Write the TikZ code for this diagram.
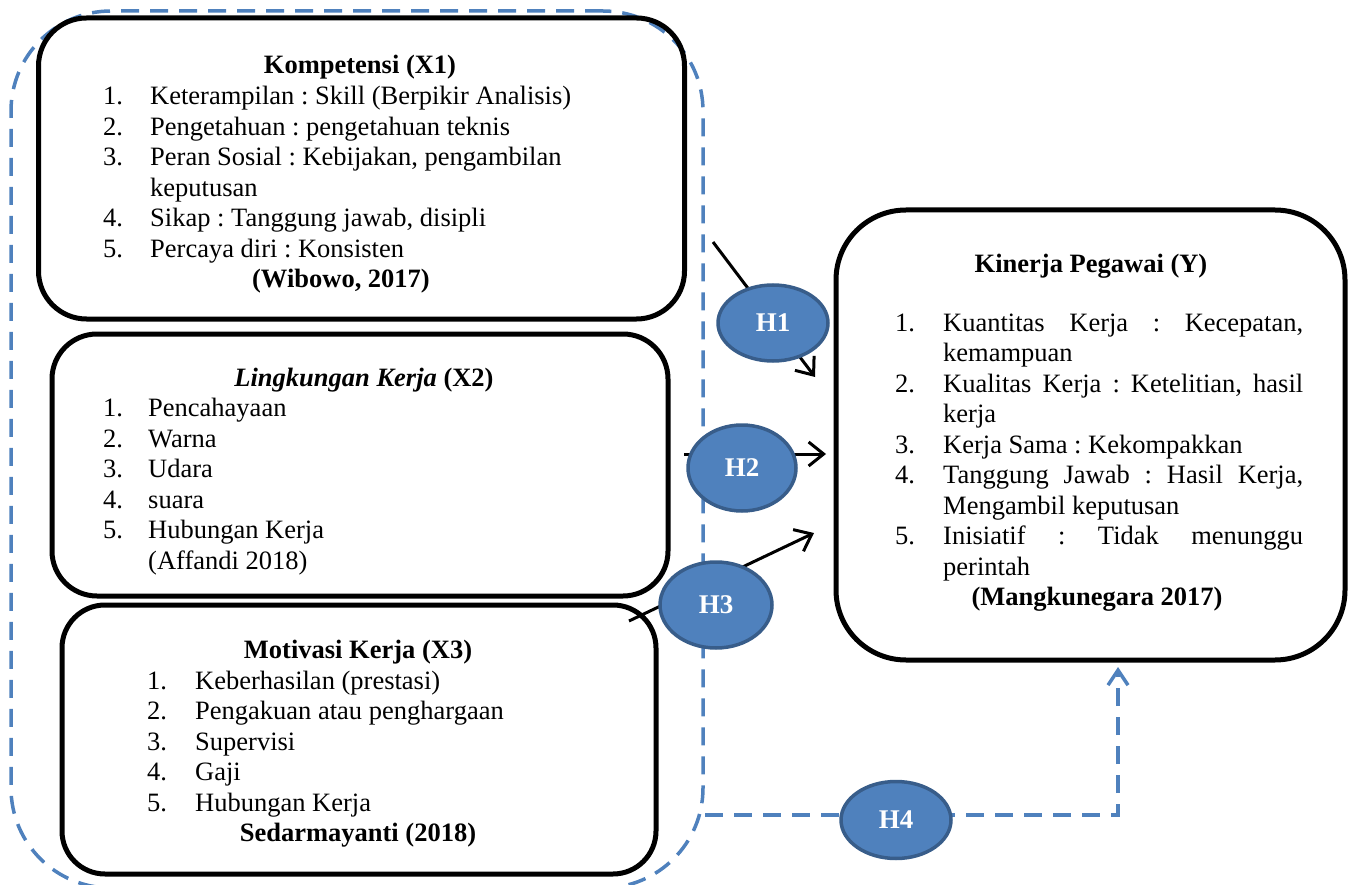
\documentclass[tikz,border=0pt]{standalone}
\usepackage{fontspec}
\setmainfont{Liberation Serif}
\usetikzlibrary{arrows.meta,shapes.geometric,calc}
\definecolor{hblue}{HTML}{4F81BD}
\definecolor{hdark}{HTML}{385D8A}
\frenchspacing
\begin{document}
\frenchspacing
\begin{tikzpicture}[x=1pt,y=-1pt,
  every node/.style={font=\fontsize{26.5}{30.5}\selectfont\frenchspacing},
  bx/.style={draw, line width=5pt, rounded corners=#1, inner sep=0pt, outer sep=0pt},
  grp/.style={draw=hblue, line width=3.5pt, dash pattern=on 18pt off 11pt, rounded corners=100pt, inner sep=0pt, outer sep=0pt},
  ttl/.style={anchor=base, inner sep=0pt, font=\fontsize{26.5}{30.5}\selectfont\bfseries},
  lst/.style={anchor=base west, inner sep=0pt},
  hyp/.style={ellipse, fill=hblue, draw=hdark, line width=3.5pt, text=white, inner sep=0pt, font=\fontsize{27}{30.5}\selectfont\bfseries},
  arr/.style={line width=3pt, -{Straight Barb[length=15pt,width=24pt]}},
  darr/.style={draw=hblue, line width=3.5pt, dash pattern=on 18pt off 11pt, -{Straight Barb[length=15pt,width=20pt]}}
]
\useasboundingbox (0,0) rectangle (1349,885);
\clip (0,0) rectangle (1349,885);

% dashed group outline
\node[grp, minimum width=692pt, minimum height=877pt] (G) at (357,449.5) {};

% boxes
\node[bx=48pt, minimum width=646pt, minimum height=301pt] (X1) at (361.5,168.5) {};
\node[bx=45pt, minimum width=616pt, minimum height=262pt] (X2) at (360,465) {};
\node[bx=43pt, minimum width=594pt, minimum height=269pt] (X3) at (359,739.5) {};
\node[bx=70pt, minimum width=509pt, minimum height=450pt] (Y) at (1090.5,435) {};

% X1 text
\node[ttl] (X1t) at (360,74) {Kompetensi (X1)};
\node[lst] (X1l) at (103,105) {\begin{tabular}[t]{@{}p{47pt}@{}l@{}}
1. & Keterampilan : Skill (Berpikir Analisis)\\
2. & Pengetahuan : pengetahuan teknis\\
3. & Peran Sosial : Kebijakan, pengambilan\\
   & keputusan\\
4. & Sikap : Tanggung jawab, disipli\\
5. & Percaya diri : Konsisten
\end{tabular}};
\node[ttl] (X1r) at (341,287.5) {(Wibowo, 2017)};

% X2 text
\node[ttl] (X2t) at (364,386) {\textit{Lingkungan Kerja} (X2)};
\node[lst] (X2l) at (103,416.5) {\begin{tabular}[t]{@{}p{45pt}@{}l@{}}
1. & Pencahayaan\\
2. & Warna\\
3. & Udara\\
4. & suara\\
5. & Hubungan Kerja\\
   & (Affandi 2018)
\end{tabular}};

% X3 text
\node[ttl] (X3t) at (358,658) {Motivasi Kerja (X3)};
\node[lst] (X3l) at (147,689) {\begin{tabular}[t]{@{}p{48pt}@{}l@{}}
1. & Keberhasilan (prestasi)\\
2. & Pengakuan atau penghargaan\\
3. & Supervisi\\
4. & Gaji\\
5. & Hubungan Kerja
\end{tabular}};
\node[ttl] (X3r) at (358,841.5) {Sedarmayanti (2018)};

% Y text
\node[ttl] (Yt) at (1091,273) {Kinerja Pegawai (Y)};
\node[lst] (Yl) at (895,331) {\begin{tabular}[t]{@{}p{48pt}@{}l@{}}
1. & \makebox[360pt][s]{Kuantitas Kerja : Kecepatan,}\\
   & kemampuan\\
2. & \makebox[360pt][s]{Kualitas Kerja : Ketelitian, hasil}\\
   & kerja\\
3. & Kerja Sama : Kekompakkan\\
4. & \makebox[360pt][s]{Tanggung Jawab : Hasil Kerja,}\\
   & Mengambil keputusan\\
5. & \makebox[360pt][s]{Inisiatif : Tidak menunggu}\\
   & perintah
\end{tabular}};
\node[ttl] (Yr) at (1097,605.5) {(Mangkunegara 2017)};

% connectors
\coordinate (h1s) at (713,242);
\coordinate (h1e) at (815,377);
\coordinate (h2s) at (684,454);
\coordinate (h2e) at (826,454);
\coordinate (h3s) at (629,621);
\coordinate (h3e) at (814,533);
\coordinate (h4s) at (705,815);
\coordinate (h4c) at (1118,815);
\coordinate (h4e) at (1118,667);
\draw[arr] (h1s) -- (h1e);
\draw[arr] (h2s) -- (h2e);
\draw[arr] (h3s) -- (h3e);
\draw[darr] (h4s) -- (h4c) -- (h4e);

% hypotheses
\node[hyp, minimum width=110pt, minimum height=76pt] (H1) at (773,323) {H1};
\node[hyp, minimum width=108pt, minimum height=86pt] (H2) at (742,468) {H2};
\node[hyp, minimum width=112pt, minimum height=86pt] (H3) at (716,605) {H3};
\node[hyp, minimum width=110pt, minimum height=77pt] (H4) at (896,820) {H4};
\end{tikzpicture}
\end{document}
